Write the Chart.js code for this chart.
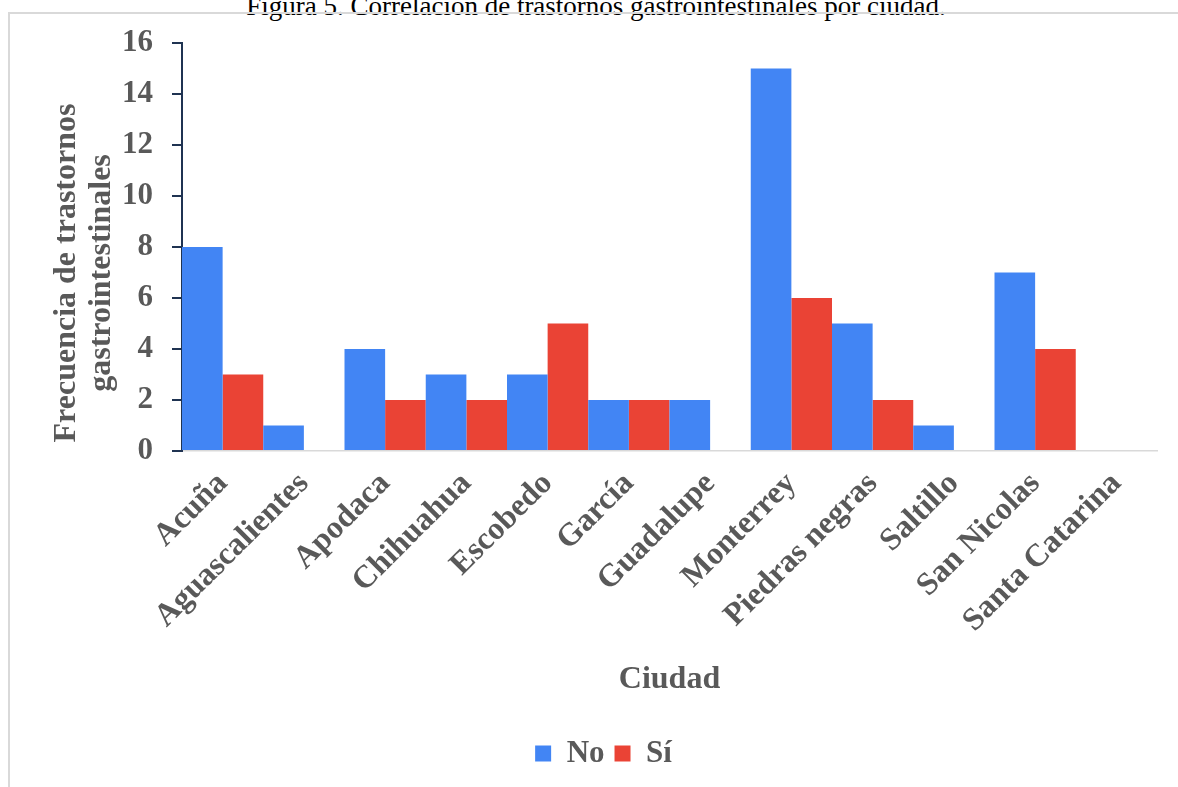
<!DOCTYPE html>
<html lang="es">
<head>
<meta charset="utf-8">
<title>Trastornos gastrointestinales por ciudad</title>
<script src="https://cdn.jsdelivr.net/npm/chart.js@4.4.1/dist/chart.umd.min.js"></script>
<style>
  html, body { margin: 0; padding: 0; background: #ffffff; }
  #page { position: relative; width: 1178px; height: 787px; overflow: hidden; }
  #caption {
    position: absolute; left: 0; width: 1192px; top: -7px;
    text-align: center; font: 27px/27px "Liberation Serif", "Times New Roman", serif;
    color: #000000; white-space: nowrap;
  }
  #frame {
    position: absolute; left: 8px; top: 12px; width: 1200px; height: 800px;
    border-left: 2px solid #d9d9d9; border-top: 2px solid #d9d9d9;
  }
  #chart { position: absolute; left: 0; top: 0; }
</style>
</head>
<body>
<div id="page">
  <div id="caption">Figura 5. Correlación de trastornos gastrointestinales por ciudad.</div>
  <div id="frame"></div>
  <canvas id="chart" width="1178" height="787"></canvas>
</div>
<script>
const ciudades = [
  "Acuña", "Aguascalientes", "Apodaca", "Chihuahua", "Escobedo", "García",
  "Guadalupe", "Monterrey", "Piedras negras", "Saltillo", "San Nicolas", "Santa Catarina"
];
const valoresNo = [8, 1, 4, 3, 3, 2, 2, 15, 5, 1, 7, 0];
const valoresSi = [3, 0, 2, 2, 5, 2, 0, 6, 2, 0, 4, 0];
const ticksY = [0, 2, 4, 6, 8, 10, 12, 14, 16];
const tituloY = ["Frecuencia de trastornos", "gastrointestinales"];
const tituloX = "Ciudad";

const SERIF = "'Liberation Serif', 'Times New Roman', serif";
const GRIS = "#595959";

// rotated two-line y-axis title, placed next to the tick labels
const yTitlePlugin = {
  id: "yTitle",
  afterDraw(chart, args, opts) {
    const ctx = chart.ctx;
    const cy = opts.centerY;
    ctx.save();
    ctx.fillStyle = GRIS;
    ctx.font = "bold 32px " + SERIF;
    ctx.textAlign = "center";
    ctx.textBaseline = "alphabetic";
    opts.lines.forEach((line, i) => {
      ctx.save();
      ctx.translate(opts.baselines[i], cy);
      ctx.rotate(-Math.PI / 2);
      ctx.fillText(line, 0, 0);
      ctx.restore();
    });
    ctx.restore();
  }
};

new Chart(document.getElementById("chart"), {
  type: "bar",
  data: {
    labels: ciudades,
    datasets: [
      { label: "No", data: valoresNo, backgroundColor: "#4285F4" },
      { label: "Sí", data: valoresSi, backgroundColor: "#EA4335" }
    ]
  },
  plugins: [yTitlePlugin],
  options: {
    responsive: false,
    devicePixelRatio: 1,
    animation: false,
    categoryPercentage: 1.0,
    barPercentage: 1.0,
    elements: { bar: { borderWidth: 0, inflateAmount: 0 } },
    layout: { padding: { left: 50, right: 21, top: 43, bottom: 8 } },
    scales: {
      x: {
        grid: { display: false, drawTicks: false },
        border: { display: true, color: "#d9d9d9", width: 1.5 },
        ticks: {
          color: GRIS,
          font: { family: SERIF, size: 32, weight: "bold" },
          maxRotation: 45,
          minRotation: 45,
          autoSkip: false,
          padding: 14
        },
        title: {
          display: true,
          text: tituloX,
          color: GRIS,
          font: { family: SERIF, size: 32, weight: "bold" },
          padding: { top: 0, bottom: 29 }
        },
        afterFit: s => { s.height = 277; }
      },
      y: {
        min: 0,
        max: 16,
        afterBuildTicks: s => { s.ticks = ticksY.map(v => ({ value: v })); },
        grid: {
          display: true,
          drawOnChartArea: false,
          drawTicks: true,
          tickLength: 10,
          color: "#1f3352",
          lineWidth: 2
        },
        border: { display: true, color: "#1f3352", width: 2 },
        ticks: {
          color: GRIS,
          font: { family: SERIF, size: 31, weight: "bold" },
          padding: 19
        },
        afterFit: s => { s.width = 132; }
      }
    },
    plugins: {
      legend: {
        position: "bottom",
        labels: {
          color: GRIS,
          boxWidth: 16,
          boxHeight: 16,
          padding: 10,
          font: { family: SERIF, size: 31, weight: "bold" }
        }
      },
      tooltip: { enabled: false },
      yTitle: { lines: tituloY, baselines: [75, 110], centerY: 273 }
    }
  }
});
</script>
</body>
</html>
